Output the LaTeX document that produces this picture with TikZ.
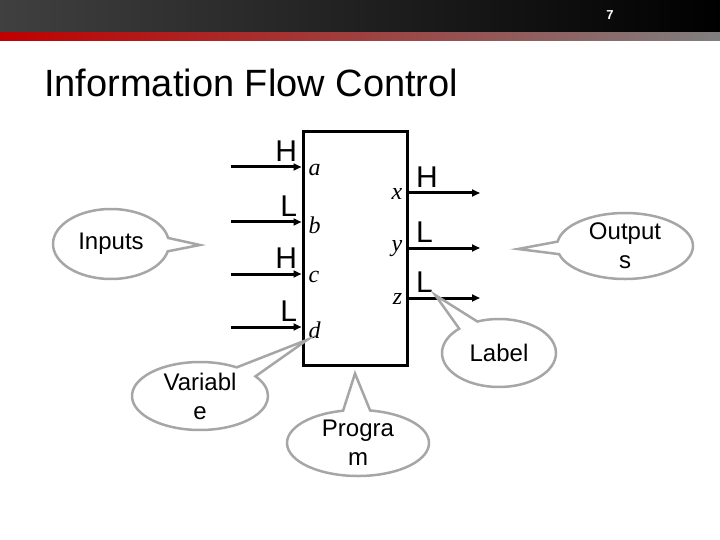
\documentclass[tikz,border=0pt]{standalone}
\usepackage{fontspec}
\setmainfont{Liberation Sans}
\newfontfamily\portfont{Liberation Serif}
\usetikzlibrary{arrows.meta, positioning, shapes.callouts, calc}
\definecolor{hdrgray}{RGB}{64,64,64}
\definecolor{bubblegray}{RGB}{166,166,166}

\begin{document}
\begin{tikzpicture}[
  x=1pt, y=-1pt,
  progbox/.style={rectangle, draw=black, line width=3pt,
                  minimum width=104pt, minimum height=233pt},
  arr/.style={-{Triangle[length=8pt, width=7pt]}, line width=3pt},
  lev/.style={font=\fontsize{30}{30}\selectfont, inner sep=1pt},
  port/.style={font=\portfont\itshape\fontsize{24}{24}\selectfont, inner sep=1pt},
  bubble/.style={ellipse callout, draw=bubblegray, line width=2.5pt, fill=white,
                 font=\fontsize{24}{29}\selectfont, align=center, inner sep=0pt,
                 callout pointer arc=22}
]
\useasboundingbox (0,0) rectangle (720,540);

% Header bar and title
\shade[left color=hdrgray, right color=black] (0,0) rectangle (720,33);
\shade[left color=red!75!black, right color=gray] (0,33) rectangle (720,41);
\node[font=\bfseries\fontsize{13}{13}\selectfont, text=white] (pgno) at (610,15) {7};
\node[anchor=base west, inner sep=0pt, font=\fontsize{38}{38}\selectfont] (title) at (44,97) {Information Flow Control};

% Program box
\node[progbox] (prog) at (355,248.5) {};

% Input wires
\coordinate (ina) at (231,167);
\coordinate (inb) at (231,222);
\coordinate (inc) at (231,274);
\coordinate (ind) at (231,327);
\draw[arr] (ina) -- node[lev, pos=1, anchor=south east, xshift=-2pt, yshift=3pt]{H} (ina -| prog.west);
\draw[arr] (inb) -- node[lev, pos=1, anchor=south east, xshift=-2pt, yshift=3pt]{L} (inb -| prog.west);
\draw[arr] (inc) -- node[lev, pos=1, anchor=south east, xshift=-2pt, yshift=3pt]{H} (inc -| prog.west);
\draw[arr] (ind) -- node[lev, pos=1, anchor=south east, xshift=-2pt, yshift=3pt]{L} (ind -| prog.west);
\node[port, anchor=west] (pa) at ([xshift=6pt, yshift=-3pt]ina -| prog.west) {a};
\node[port, anchor=west] (pb) at ([xshift=6pt, yshift=-3pt]inb -| prog.west) {b};
\node[port, anchor=west] (pc) at ([xshift=6pt, yshift=-3pt]inc -| prog.west) {c};
\node[port, anchor=west] (pd) at ([xshift=6pt, yshift=-3pt]ind -| prog.west) {d};

% Output wires
\coordinate (outx) at (480,193);
\coordinate (outy) at (480,248);
\coordinate (outz) at (480,298);
\draw[arr] (prog.east |- outx) -- node[lev, pos=0, anchor=south west, xshift=5pt, yshift=3pt](lx){H} (outx);
\draw[arr] (prog.east |- outy) -- node[lev, pos=0, anchor=south west, xshift=5pt, yshift=3pt](ly){L} (outy);
\draw[arr] (prog.east |- outz) -- node[lev, pos=0, anchor=south west, xshift=5pt, yshift=3pt](lz){L} (outz);
\node[port, anchor=east] (px) at ([xshift=-5pt, yshift=-1pt]outx -| prog.east) {x};
\node[port, anchor=east] (py) at ([xshift=-5pt, yshift=-1pt]outy -| prog.east) {y};
\node[port, anchor=east] (pz) at ([xshift=-5pt, yshift=-1pt]outz -| prog.east) {z};

% Callouts
\coordinate (intip) at (200,245);
\coordinate (outtip) at (518,249);
\node[bubble, minimum width=116pt, minimum height=70pt,
      callout absolute pointer={(intip)}] (inputs) at (111,244) {Inputs};
\node[bubble, minimum width=136pt, minimum height=66pt,
      callout absolute pointer={(outtip)}] (outputs) at (625,246) {Output\\s};
\node[bubble, minimum width=114pt, minimum height=68pt,
      callout absolute pointer={(lz.south east)}] (label) at (499,353) {Label};
\node[bubble, minimum width=136pt, minimum height=68pt,
      callout absolute pointer={(pd.south west)}] (variable) at (200,396) {Variabl\\e};
\node[bubble, minimum width=142pt, minimum height=66pt,
      callout absolute pointer={([yshift=-7pt]prog.south)}] (program) at (358,443) {Progra\\m};

\end{tikzpicture}
\end{document}
